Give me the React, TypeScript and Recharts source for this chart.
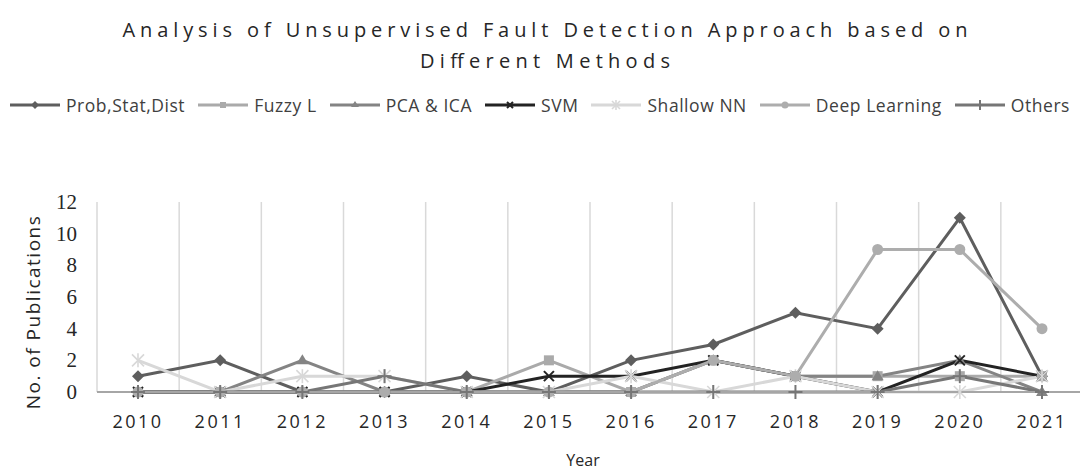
import React from 'react';
import { LineChart, Line, XAxis, YAxis, CartesianGrid, Legend, Label } from 'recharts';

const years = ['2010', '2011', '2012', '2013', '2014', '2015', '2016', '2017', '2018', '2019', '2020', '2021'];
const probStatDist = [1, 2, 0, 0, 1, 0, 2, 3, 5, 4, 11, 1];
const fuzzyL = [0, 0, 0, 0, 0, 2, 0, 2, 1, 1, 1, 1];
const pcaIca = [0, 0, 2, 0, 0, 0, 0, 2, 1, 1, 2, 0];
const svm = [0, 0, 0, 0, 0, 1, 1, 2, 1, 0, 2, 1];
const shallowNN = [2, 0, 1, 1, 0, 0, 1, 0, 1, 0, 0, 1];
const deepLearning = [0, 0, 0, 0, 0, 0, 0, 2, 1, 9, 9, 4];
const others = [0, 0, 0, 1, 0, 0, 0, 0, 0, 0, 1, 0];
const yTicks = [0, 2, 4, 6, 8, 10, 12];

const title1 = 'Analysis of Unsupervised Fault Detection Approach based on';
const title2 = 'Different Methods';

const data = years.map((year, i) => ({
  year,
  prob: probStatDist[i],
  fuzzy: fuzzyL[i],
  pca: pcaIca[i],
  svm: svm[i],
  shallow: shallowNN[i],
  deep: deepLearning[i],
  others: others[i],
}));

type MarkerType = 'diamond' | 'square' | 'triangle' | 'x' | 'star' | 'circle' | 'plus';

const series: { key: string; name: string; color: string; marker: MarkerType }[] = [
  { key: 'prob', name: 'Prob,Stat,Dist', color: '#5e5e5e', marker: 'diamond' },
  { key: 'fuzzy', name: 'Fuzzy L', color: '#aaaaaa', marker: 'square' },
  { key: 'pca', name: 'PCA & ICA', color: '#848484', marker: 'triangle' },
  { key: 'svm', name: 'SVM', color: '#232323', marker: 'x' },
  { key: 'shallow', name: 'Shallow NN', color: '#d8d8d8', marker: 'star' },
  { key: 'deep', name: 'Deep Learning', color: '#adadad', marker: 'circle' },
  { key: 'others', name: 'Others', color: '#767676', marker: 'plus' },
];

const Marker = ({ type, cx, cy, color, s = 5 }: { type: MarkerType; cx: number; cy: number; color: string; s?: number }) => {
  if (cx == null || cy == null) return null;
  switch (type) {
    case 'diamond':
      return <path d={`M${cx},${cy - s - 1}L${cx + s + 1},${cy}L${cx},${cy + s + 1}L${cx - s - 1},${cy}Z`} fill={color} />;
    case 'square':
      return <rect x={cx - s} y={cy - s} width={2 * s} height={2 * s} fill={color} />;
    case 'triangle':
      return <path d={`M${cx},${cy - s - 1}L${cx + s + 1},${cy + s - 1}L${cx - s - 1},${cy + s - 1}Z`} fill={color} />;
    case 'x':
      return (
        <g stroke={color} strokeWidth={2}>
          <line x1={cx - s} y1={cy - s} x2={cx + s} y2={cy + s} />
          <line x1={cx - s} y1={cy + s} x2={cx + s} y2={cy - s} />
        </g>
      );
    case 'star':
      return (
        <g stroke={color} strokeWidth={1.6}>
          <line x1={cx - s - 1} y1={cy - s - 1} x2={cx + s + 1} y2={cy + s + 1} />
          <line x1={cx - s - 1} y1={cy + s + 1} x2={cx + s + 1} y2={cy - s - 1} />
          <line x1={cx} y1={cy - s - 2} x2={cx} y2={cy + s + 2} />
        </g>
      );
    case 'circle':
      return <circle cx={cx} cy={cy} r={s + 0.5} fill={color} />;
    case 'plus':
      return (
        <g stroke={color} strokeWidth={2}>
          <line x1={cx} y1={cy - s - 2} x2={cx} y2={cy + s + 2} />
          <line x1={cx - s - 2} y1={cy} x2={cx + s + 2} y2={cy} />
        </g>
      );
    default:
      return null;
  }
};

const LegendContent = () => (
  <div style={{ display: 'flex', alignItems: 'center', whiteSpace: 'nowrap', fontFamily: 'Open Sans, sans-serif', fontSize: 17.5, letterSpacing: 0.55, color: '#404040', paddingLeft: 10 }}>
    {series.map((s) => (
      <div key={s.key} style={{ display: 'flex', alignItems: 'center', flexShrink: 0, marginRight: 13 }}>
        <svg width={50} height={16}>
          <line x1={0} y1={8} x2={50} y2={8} stroke={s.color} strokeWidth={3} />
          <Marker type={s.marker} cx={25} cy={8} color={s.color} s={3} />
        </svg>
        <span style={{ marginLeft: 6, whiteSpace: 'nowrap' }}>{s.name}</span>
      </div>
    ))}
  </div>
);

const XTick = (props: any) => {
  const { x, y, payload } = props;
  return (
    <text x={x} y={y} dy={36} textAnchor="middle" fill="#262626" fontFamily="Open Sans, sans-serif" fontSize={18} style={{ letterSpacing: 2.5 }}>
      {payload.value}
    </text>
  );
};

const YTick = (props: any) => {
  const { x, y, payload } = props;
  return (
    <text x={x} y={y} dy={7} textAnchor="end" fill="#262626" fontFamily="Liberation Serif, serif" fontSize={21}>
      {payload.value}
    </text>
  );
};

export default function App() {
  return (
    <div style={{ position: 'absolute', left: 0, top: 0, width: 1080, height: 471, overflow: 'hidden', background: '#fff' }}>
      <svg width={1080} height={80} style={{ position: 'absolute', left: 0, top: 0 }}>
        <text x={545} y={37} textAnchor="middle" fontFamily="Open Sans, sans-serif" fontSize={20} fill="#262626" textLength={845} lengthAdjust="spacing">
          {title1}
        </text>
        <text x={545} y={68} textAnchor="middle" fontFamily="Open Sans, sans-serif" fontSize={20} fill="#262626" textLength={250} lengthAdjust="spacing">
          {title2}
        </text>
      </svg>
      <LineChart width={1090} height={471} data={data} margin={{ top: 202, right: 7, bottom: 0, left: 0 }}>
        <CartesianGrid
          horizontal={false}
          stroke="#d9d9d9"
          strokeWidth={1.5}
          verticalCoordinatesGenerator={({ offset }: any) => years.map((_, i) => offset.left + (offset.width * i) / years.length)}
        />
        <XAxis
          dataKey="year"
          height={79}
          padding={{ left: 41, right: 41 }}
          tickLine={false}
          tickSize={0}
          tickMargin={0}
          axisLine={{ stroke: '#a6a6a6', strokeWidth: 2 }}
          tick={<XTick />}
          interval={0}
        >
          <Label
            content={({ viewBox }: any) => (
              <text x={viewBox.x + viewBox.width / 2 - 7} y={viewBox.y + 74} textAnchor="middle" fontFamily="Open Sans, sans-serif" fontSize={16} fill="#262626">
                Year
              </text>
            )}
          />
        </XAxis>
        <YAxis
          width={97}
          domain={[0, 12]}
          ticks={yTicks}
          axisLine={false}
          tickLine={false}
          tickSize={0}
          tickMargin={20}
          tick={<YTick />}
        >
          <Label
            content={({ viewBox }: any) => {
              const cx = 33;
              const cy = viewBox.y + viewBox.height / 2 + 15;
              return (
                <text x={cx} y={cy} transform={`rotate(-90 ${cx} ${cy})`} textAnchor="middle" dominantBaseline="central" fontFamily="Open Sans, sans-serif" fontSize={19} fill="#262626" style={{ letterSpacing: 1.5 }}>
                  No. of Publications
                </text>
              );
            }}
          />
        </YAxis>
        <Legend verticalAlign="middle" layout="horizontal" wrapperStyle={{ top: 93, left: 0, width: 1090 }} content={<LegendContent />} />
        {series.map((s) => (
          <Line
            key={s.key}
            type="linear"
            dataKey={s.key}
            name={s.name}
            stroke={s.color}
            strokeWidth={3}
            isAnimationActive={false}
            dot={(p: any) => <Marker key={`${s.key}-${p.index}`} type={s.marker} cx={p.cx} cy={p.cy} color={s.color} />}
            activeDot={false}
          />
        ))}
      </LineChart>
    </div>
  );
}
